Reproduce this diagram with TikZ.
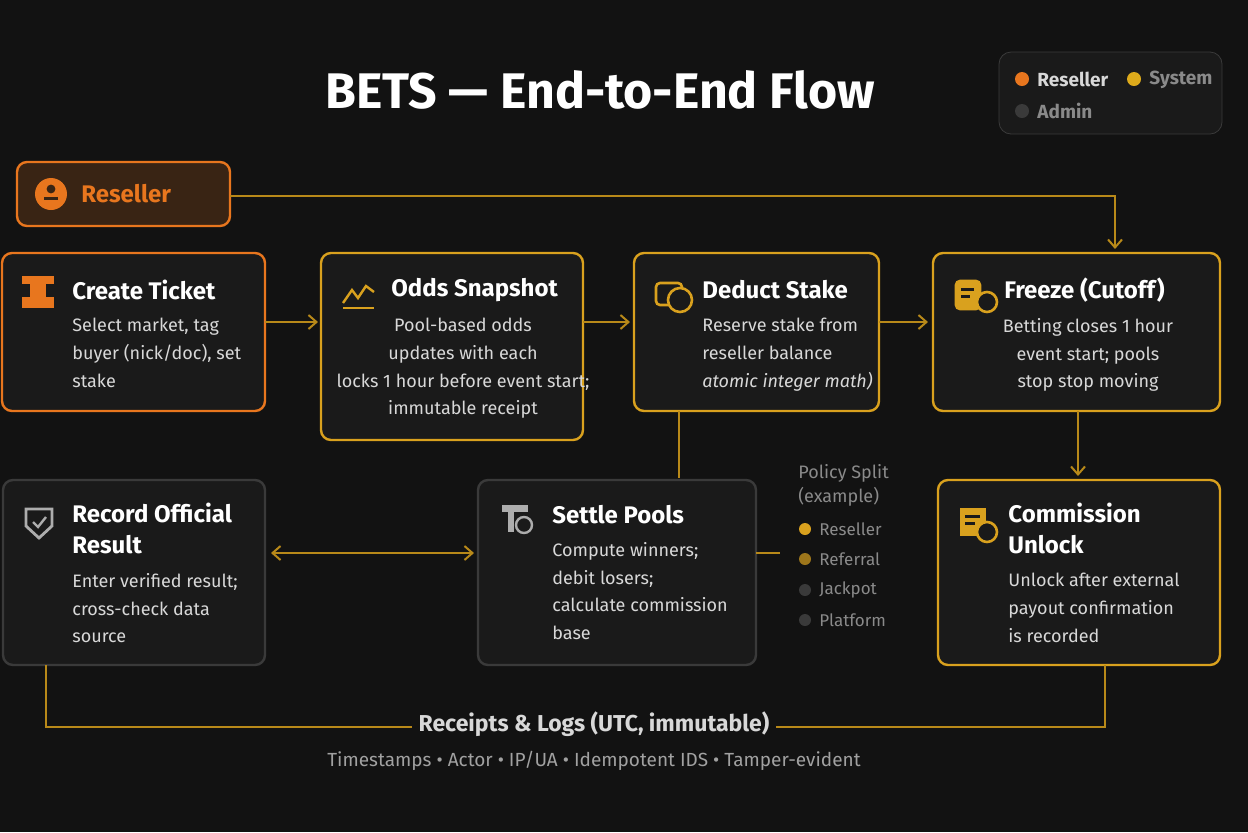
\documentclass[tikz,border=0pt]{standalone}
\usepackage{fontspec}
\setmainfont{Fira Sans}
\usetikzlibrary{arrows.meta}
\definecolor{bg}{HTML}{121212}
\definecolor{boxf}{HTML}{1A1A1A}
\definecolor{org}{HTML}{E8761E}
\definecolor{gold}{HTML}{D9A11E}
\definecolor{gbord}{HTML}{3A3A3A}
\definecolor{txt}{HTML}{D8D8D8}
\definecolor{sub}{HTML}{8A8A8A}
\tikzset{
 box/.style={draw=#1, line width=1.2pt, rounded corners=5pt, fill=boxf},
 ttl/.style={anchor=west, inner sep=0pt, text=white, font=\fontsize{12}{14}\selectfont\bfseries},
 bdy/.style={anchor=north west, inner sep=0pt, text=txt, align=left, font=\fontsize{9}{13.8}\selectfont},
 bdyc/.style={anchor=north, inner sep=0pt, text=txt, align=center, font=\fontsize{9}{13.8}\selectfont},
 con/.style={draw=gold!85!black, line width=1pt},
 arr/.style={con, -{Straight Barb[length=4pt,width=7pt]}},
}
\begin{document}
\begin{tikzpicture}[x=0.5pt,y=-0.5pt]
\fill[bg] (0,0) rectangle (1248,832);
\useasboundingbox (0,0) rectangle (1248,832);
% title
\node[text=white, font=\fontsize{25}{30}\selectfont\bfseries] (title) at (600,90) {BETS — End-to-End Flow};
% legend
\draw[draw=gbord, rounded corners=6pt, fill=boxf] (999,52) rectangle (1222,134);
\fill[org] (1022,79) circle (3.5pt); \node[anchor=west,inner sep=0pt,text=txt,font=\fontsize{9.5}{11}\selectfont\bfseries] (l1) at (1037,79) {Reseller};
\fill[gold!90!yellow] (1134,79) circle (3.5pt); \node[anchor=west,inner sep=0pt,text=sub,font=\fontsize{9.5}{11}\selectfont\bfseries] (l2) at (1149,80) {System};
\fill[gbord] (1022,111) circle (3.5pt); \node[anchor=west,inner sep=0pt,text=sub,font=\fontsize{9.5}{11}\selectfont\bfseries] (l3) at (1037,111) {Admin};
% boxes
\draw[box=org, fill=org!18!bg] (17,162) rectangle (230,226);
\coordinate (resR) at (230,196);
\fill[org] (51,194) circle (8pt);
\fill[org!18!bg] (51,189) circle (2.2pt); \fill[org!18!bg] (44,197) rectangle (58,200);
\node[ttl, text=org, font=\fontsize{12}{14}\selectfont\bfseries] (res) at (81,194) {Reseller};

\draw[box=org] (2,253) rectangle (265,411);
\draw[box=gold] (321,253) rectangle (583,440);
\draw[box=gold] (634,253) rectangle (879,411);
\draw[box=gold] (933,253) rectangle (1220,411);
\draw[box=gbord] (3,480) rectangle (265,665);
\draw[box=gbord] (478,480) rectangle (756,665);
\draw[box=gold] (938,480) rectangle (1220,665);

% icons
\fill[org] (22,276) rectangle (54,284); \fill[org] (30,284) rectangle (46,297); \fill[org] (22,297) rectangle (54,308);
\draw[gold, line width=1.2pt] (343,303)--(352,290)--(358,298)--(366,286)--(374,292); \draw[gold,line width=1.2pt](343,308)--(374,308);
\draw[gold, line width=1.3pt, rounded corners=2pt] (656,283) rectangle (682,305); \draw[gold,fill=boxf,line width=1.3pt] (680,300) circle (6pt);
\draw[gold, line width=1.3pt, rounded corners=2pt, fill=gold] (956,281) rectangle (980,309); \fill[boxf] (961,288) rectangle (974,291); \fill[boxf] (961,295) rectangle (970,298); \draw[gold,fill=boxf,line width=1.3pt] (987,302) circle (5pt);
\draw[sub!70, line width=1.4pt] (26,509)--(52,509)--(52,526)--(39,538)--(26,526)--cycle; \draw[sub!70,line width=1.2pt] (33,522)--(38,527)--(46,517);
\fill[sub!70] (502,505) rectangle (528,512); \fill[sub!70] (508,512) rectangle (514,532); \draw[sub!70,line width=1.2pt] (524,525) circle (4pt);
\fill[gold] (960,508) rectangle (986,536); \fill[boxf] (965,515) rectangle (980,518); \fill[boxf] (965,522) rectangle (975,525); \draw[gold,fill=boxf,line width=1.3pt] (987,532) circle (5pt);

% titles and bodies
\node[ttl] (ct) at (72,290) {Create Ticket};
\node[bdy] (ctb) at (72,318) {Select market, tag\\buyer (nick/doc), set\\stake};
\node[ttl] (os) at (391,290) {Odds Snapshot};
\node[bdyc] (osb) at (463,318) {Pool-based odds\\updates with each\\locks 1 hour before event start;\\immutable receipt};
\node[ttl] (ds) at (702,290) {Deduct Stake};
\node[bdy] (dsb) at (702,318) {Reserve stake from\\reseller balance\\{\itshape atomic integer math)}};
\node[ttl] (fz) at (1004,290) {Freeze (Cutoff)};
\node[bdyc] (fzb) at (1088,318) {Betting closes 1 hour\\event start; pools\\stop stop moving};
\node[ttl, align=left, anchor=north west, font=\fontsize{12}{15.5}\selectfont\bfseries] (ro) at (72,503) {Record Official\\Result};
\node[bdy] (rob) at (72,573) {Enter verified result;\\cross-check data\\source};
\node[ttl] (sp) at (552,515) {Settle Pools};
\node[bdy] (spb) at (552,542) {Compute winners;\\debit losers;\\calculate commission\\base};
\node[ttl, align=left, anchor=north west, font=\fontsize{12}{15.5}\selectfont\bfseries] (cu) at (1008,503) {Commission\\Unlock};
\node[bdy] (cub) at (1008,573) {Unlock after external\\payout confirmation\\is recorded};

% policy split
\node[anchor=north west, inner sep=0pt, text=sub, align=left, font=\fontsize{9}{12}\selectfont] (ps) at (798,464) {Policy Split\\(example)};
\foreach \y/\c/\t/\n in {529/gold/Reseller/pa, 559/gold!70!bg/Referral/pb, 590/gbord/Jackpot/pc, 620/gbord/Platform/pd}{
  \fill[\c] (805,\y) circle (3pt);
  \node[anchor=west, inner sep=0pt, text=sub, font=\fontsize{8.5}{10}\selectfont] (\n) at (819,\y) {\t};
}

% connectors
\coordinate (frzTop) at (1115,249);
\draw[arr] (resR) -- (1115,196) -- (frzTop);
\draw[arr] (265,322) -- (318,322);
\draw[arr] (583,322) -- (630,322);
\draw[arr] (879,322) -- (928,322);
\draw[arr] (1078,411) -- (1078,476);
\draw[con] (679,411) -- (679,478);
\draw[con, {Straight Barb[length=4pt,width=7pt]}-{Straight Barb[length=4pt,width=7pt]}] (271,553) -- (474,553);
\draw[con] (756,553) -- (780,553);
\node[text=txt, font=\fontsize{11.5}{14}\selectfont\bfseries] (rl) at (594,724) {Receipts \& Logs (UTC, immutable)};
\draw[con] (46,665) -- (46,727) -- (rl.west |- 0,727);
\draw[con] (rl.east |- 0,727) -- (1105,727) -- (1105,665);
\node[text=sub!80, font=\fontsize{9.5}{12}\selectfont] (ft) at (594,761) {Timestamps • Actor • IP/UA • Idempotent IDS • Tamper-evident};
\end{tikzpicture}
\end{document}
